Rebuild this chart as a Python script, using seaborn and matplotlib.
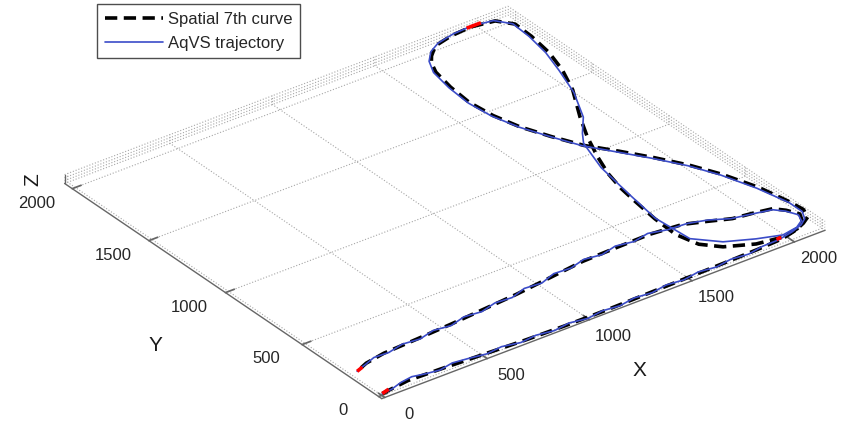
import matplotlib
matplotlib.use("Agg")
import matplotlib.pyplot as plt
import seaborn as sns

sns.set_theme(style="white")
plt.rcParams["font.family"] = ["Liberation Sans", "DejaVu Sans"]

# Spatial 7th curve (reference path), ordered from the lower start point
ref_x = [10, 150, 300, 500, 700, 900, 1100, 1300, 1500, 1700, 1850, 1978, 2060, 2115,
         2160, 2178, 2170, 2140, 2085, 2025, 1950, 1870, 1786, 1725, 1672, 1640, 1626,
         1638, 1661, 1690, 1722, 1780, 1876, 1980, 2083, 2131, 2126, 2106, 2068, 2008,
         1905, 1835, 1775, 1732, 1705, 1689, 1670, 1663, 1690, 1754, 1871, 1987, 2070,
         2120, 2146, 2120, 2085, 2000, 1914, 1820, 1731, 1582, 1420, 1248, 1070, 888,
         710, 544, 370, 201, 100, 34]
ref_y = [10, 30, 25, 15, 5, 0, 0, 5, 10, 15, 20, 28, 50, 75,
         105, 160, 239, 400, 568, 700, 828, 950, 1069, 1200, 1332, 1465, 1601,
         1740, 1867, 1935, 1977, 2030, 2055, 2064, 2044, 1978, 1865, 1724, 1587, 1438,
         1252, 1110, 961, 837, 720, 606, 450, 304, 190, 117, 57, 37, 55,
         88, 140, 195, 236, 255, 269, 312, 350, 366, 362, 356, 332, 308,
         292, 277, 265, 255, 235, 206]

# AqVS trajectory
traj_x = [10, 60, 120, 180, 240, 300, 370, 440, 520, 600, 680, 760, 840, 920, 1000,
          1080, 1160, 1240, 1320, 1400, 1480, 1560, 1640, 1720, 1800, 1880, 1960, 2040,
          2100, 2140, 2165, 2165, 2130, 2078, 2018, 1940, 1860, 1780, 1722, 1668, 1633,
          1620, 1630, 1652, 1690, 1740, 1800, 1890, 1985, 2080, 2125, 2118, 2095, 2055,
          2000, 1915, 1838, 1795, 1771, 1738, 1703, 1674, 1688, 1777, 1894, 1997,
          2075, 2120, 2138, 2115, 2080, 1995, 1910, 1830, 1750, 1660, 1580, 1500, 1420,
          1340, 1260, 1180, 1100, 1020, 940, 860, 780, 700, 620, 540, 460, 380, 300, 220,
          150, 90, 50, 34]
traj_y = [10, 15, 35, 45, 30, 20, 35, 25, 10, 20, 0, 10, -5, 8, -8,
          5, -5, 10, 0, 15, 5, 20, 8, 22, 12, 28, 30, 48,
          70, 100, 150, 235, 400, 565, 700, 830, 950, 1070, 1200, 1332, 1465,
          1600, 1740, 1870, 1950, 2005, 2040, 2062, 2068, 2050, 1985, 1870, 1730, 1590,
          1420, 1244, 1147, 1082, 1002, 891, 664, 452, 245, 148, 89, 50,
          65, 95, 138, 190, 230, 252, 272, 318, 345, 352, 376, 358, 374,
          352, 366, 342, 348, 318, 326, 298, 305, 282, 292, 268, 280, 258, 268, 248,
          252, 228, 215, 206]

# segment joints along the path
joint_x = [[10, 50], [34, 70], [1960, 2030], [1955, 1980]]
joint_y = [[10, 22], [206, 220], [2066, 2066], [37, 40]]

x_ticks = [0, 500, 1000, 1500, 2000]
y_ticks = [0, 500, 1000, 1500, 2000]
z_grid = [0, 13, 26, 40]
x_lim = (-15, 2150)
y_lim = (-20, 2050)
z_lim = (0, 40)

fig = plt.figure(figsize=(8.53, 4.25), dpi=100)
# square 3D axes (853 px side) centred on the plot box
ax = fig.add_axes([0.008, -0.507, 1.0, 2.007], projection="3d", proj_type="ortho")
ax.view_init(elev=30.5, azim=-126.8)
ax.set_xlim(*x_lim)
ax.set_ylim(*y_lim)
ax.set_zlim(*z_lim)
ax.set_box_aspect((x_lim[1] - x_lim[0], y_lim[1] - y_lim[0], z_lim[1] - z_lim[0]), zoom=0.872)

zeros_ref = [0] * len(ref_x)
zeros_traj = [0] * len(traj_x)
ax.plot(ref_x, ref_y, zeros_ref, color="black", lw=2.6, ls=(0, (3.4, 1.8)),
        label="Spatial 7th curve", clip_on=False)
ax.plot(traj_x, traj_y, zeros_traj, color="#3b4cc8", lw=1.2, label="AqVS trajectory",
        clip_on=False)
for jx, jy in zip(joint_x, joint_y):
    ax.plot(jx, jy, [0, 0], color="red", lw=2.6, solid_capstyle="butt", clip_on=False)

ax.set_xticks(x_ticks)
ax.set_yticks(y_ticks)
ax.set_zticks(z_grid)
ax.set_zticklabels([""] * len(z_grid))

for axis in (ax.xaxis, ax.yaxis, ax.zaxis):
    axis.set_pane_color((1, 1, 1, 0))
    axis.pane.set_edgecolor((1, 1, 1, 0))
    axis.line.set_color("0.4")
    axis.line.set_linewidth(1.0)
    axis._axinfo["grid"].update(color=(0.65, 0.65, 0.65, 1), linestyle=":", linewidth=0.8)
    axis._axinfo["tick"].update(inward_factor=0.0, outward_factor=0.25)
ax.zaxis._axinfo["tick"].update(inward_factor=0.0, outward_factor=0.0)

ax.tick_params(axis="both", labelsize=12, colors="0.4", labelcolor="0.15")
ax.tick_params(axis="x", pad=16)
ax.tick_params(axis="y", pad=18)
for lab in ax.get_xticklabels() + ax.get_yticklabels():
    lab.set_verticalalignment("center")

# axis titles
fig.text(0.750, 0.129, "X", fontsize=15, color="0.1", ha="center", va="center")
fig.text(0.182, 0.188, "Y", fontsize=15, color="0.1", ha="center", va="center")
fig.text(0.039, 0.578, "Z", fontsize=15, color="0.1", ha="center", va="center", rotation=90)

leg = ax.legend(loc="upper left", bbox_to_anchor=(0.114, 0.99), bbox_transform=fig.transFigure,
                fontsize=12, frameon=True, fancybox=False, framealpha=1,
                edgecolor="0.3", handlelength=3.5, borderpad=0.45, labelspacing=0.55,
                handletextpad=0.3, borderaxespad=0)
leg.get_frame().set_linewidth(1.0)

fig.savefig("out.png", dpi=100)
